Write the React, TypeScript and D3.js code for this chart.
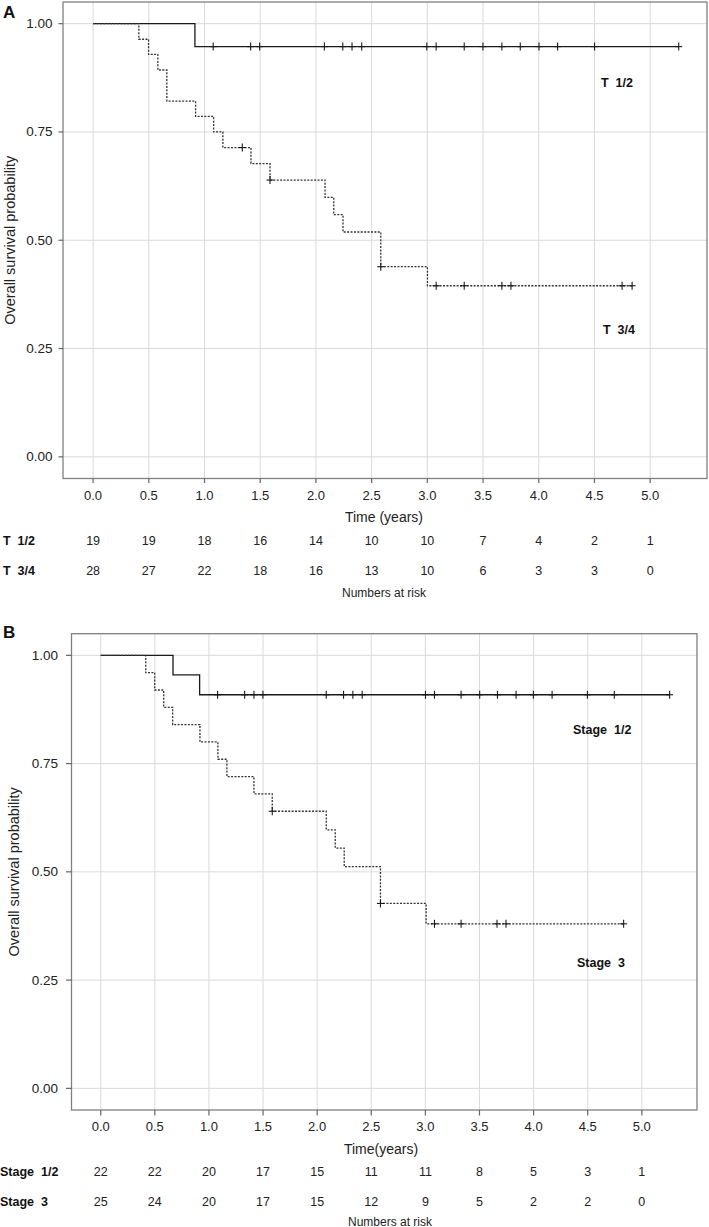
import React, { useEffect } from "react";
import * as d3 from "d3";

// ---------- DATA ----------
const xTicks = [0, 0.5, 1, 1.5, 2, 2.5, 3, 3.5, 4, 4.5, 5];
const yTicks = [0, 0.25, 0.5, 0.75, 1];

// Panel A
const aT12Times = [0.914];
const aT12Surv = [0.947];
const aT12Censor = [1.078, 1.414, 1.495, 2.076, 2.241, 2.324, 2.411, 2.995, 3.079, 3.331, 3.499, 3.669, 3.834, 4.002, 4.169, 4.501, 5.256];
const aT34Times = [0.411, 0.498, 0.581, 0.662, 0.92, 1.082, 1.165, 1.417, 1.588, 2.082, 2.16, 2.243, 2.582, 3.001];
const aT34Surv = [0.964, 0.929, 0.893, 0.821, 0.786, 0.75, 0.714, 0.677, 0.639, 0.599, 0.559, 0.519, 0.439, 0.395];
const aT34Censor = [1.339, 1.588, 2.582, 3.079, 3.331, 3.669, 3.75, 4.748, 4.838];
const aRiskT12 = [19, 19, 18, 16, 14, 10, 10, 7, 4, 2, 1];
const aRiskT34 = [28, 27, 22, 18, 16, 13, 10, 6, 3, 3, 0];

// Panel B
const bS12Times = [0.668, 0.914];
const bS12Surv = [0.955, 0.909];
const bS12Censor = [1.08, 1.33, 1.416, 1.499, 2.084, 2.244, 2.33, 2.416, 3.001, 3.084, 3.33, 3.502, 3.666, 3.838, 3.998, 4.171, 4.497, 4.746, 5.257];
const bS3Times = [0.416, 0.499, 0.582, 0.665, 0.917, 1.083, 1.166, 1.416, 1.585, 2.084, 2.167, 2.25, 2.585, 3.007];
const bS3Surv = [0.96, 0.92, 0.88, 0.84, 0.8, 0.76, 0.72, 0.68, 0.64, 0.597, 0.555, 0.512, 0.427, 0.38];
const bS3Censor = [1.585, 2.585, 3.084, 3.33, 3.662, 3.745, 4.832];
const bRiskS12 = [22, 22, 20, 17, 15, 11, 11, 8, 5, 3, 1];
const bRiskS3 = [25, 24, 20, 17, 15, 12, 9, 5, 2, 2, 0];

const FONT = "'Liberation Sans', Arial, Helvetica, sans-serif";

type Curve = { times: number[]; surv: number[]; censor: number[]; dotted: boolean };

function survAt(c: Curve, t: number) {
  let s = 1;
  for (let i = 0; i < c.times.length; i++) if (c.times[i] <= t + 1e-9) s = c.surv[i];
  return s;
}

function Panel(props: {
  letter: string;
  frame: [number, number, number, number]; // x0, x1, y0(top), y1(bottom)
  tickLen: number;
  yLabelGap: number;
  curves: Curve[];
  curveLabels: { text: string; x: number; y: number }[];
  letterY: number;
  yTitleX: number;
  xTickLabelY: number;
  xTitle: string;
  xTitleY: number;
  xTitleX: number;
  riskRows: { label: string; values: number[]; y: number; labelX: number }[];
  riskTitleY: number;
  riskTitleX: number;
}) {
  const [fx0, fx1, fy0, fy1] = props.frame;
  const x = d3.scaleLinear().domain([-0.27, 5.51]).range([fx0, fx1]);
  const y = d3.scaleLinear().domain([-0.05, 1.05]).range([fy1, fy0]);
  const line = d3
    .line<[number, number]>()
    .x((d) => x(d[0]))
    .y((d) => y(d[1]))
    .curve(d3.curveStepAfter);

  return (
    <g>
      <text x={3} y={props.letterY} fontFamily={FONT} fontWeight="bold" fontSize={17} fill="#111">
        {props.letter}
      </text>
      {/* grid */}
      {xTicks.map((t) => (
        <line key={"gx" + t} x1={x(t)} x2={x(t)} y1={fy0} y2={fy1} stroke="#dadada" strokeWidth={1} />
      ))}
      {yTicks.map((t) => (
        <line key={"gy" + t} x1={fx0} x2={fx1} y1={y(t)} y2={y(t)} stroke="#dadada" strokeWidth={1} />
      ))}
      {/* frame */}
      <rect x={fx0} y={fy0} width={fx1 - fx0} height={fy1 - fy0} fill="none" stroke="#808080" strokeWidth={1.3} />
      {/* y ticks */}
      {yTicks.map((t) => (
        <g key={"yt" + t}>
          <line x1={fx0 - props.tickLen} x2={fx0} y1={y(t)} y2={y(t)} stroke="#666" strokeWidth={1.2} />
          <text
            x={fx0 - props.yLabelGap}
            y={y(t)}
            textAnchor="end"
            dominantBaseline="central"
            fontFamily={FONT}
            fontSize={13.5}
            fill="#222"
          >
            {d3.format(".2f")(t)}
          </text>
        </g>
      ))}
      {/* x ticks */}
      {xTicks.map((t) => (
        <g key={"xt" + t}>
          <line x1={x(t)} x2={x(t)} y1={fy1} y2={fy1 + props.tickLen} stroke="#666" strokeWidth={1.2} />
          <text
            x={x(t)}
            y={props.xTickLabelY}
            textAnchor="middle"
            dominantBaseline="central"
            fontFamily={FONT}
            fontSize={13}
            fill="#222"
          >
            {d3.format(".1f")(t)}
          </text>
        </g>
      ))}
      {/* y title */}
      <text
        transform={`translate(${props.yTitleX},${(fy0 + fy1) / 2}) rotate(-90)`}
        textAnchor="middle"
        dominantBaseline="central"
        fontFamily={FONT}
        fontSize={14.5}
        fill="#222"
      >
        Overall survival probability
      </text>
      {/* x title */}
      <text
        x={props.xTitleX}
        y={props.xTitleY}
        textAnchor="middle"
        dominantBaseline="central"
        fontFamily={FONT}
        fontSize={14}
        fill="#222"
      >
        {props.xTitle}
      </text>
      {/* curves */}
      {props.curves.map((c, i) => {
        const last = Math.max(c.times[c.times.length - 1], c.censor[c.censor.length - 1]);
        const pts: [number, number][] = [[0, 1]];
        c.times.forEach((t, k) => pts.push([t, c.surv[k]]));
        pts.push([last, c.surv[c.surv.length - 1]]);
        return (
          <g key={"c" + i}>
            <path
              d={line(pts) || ""}
              fill="none"
              stroke={c.dotted ? "#333" : "#1a1a1a"}
              strokeWidth={c.dotted ? 1.3 : 1.3}
              strokeDasharray={c.dotted ? "2,1.4" : undefined}
            />
            {c.censor.map((t, k) => {
              const cx = x(t);
              const cy = y(survAt(c, t));
              return (
                <g key={"m" + k} stroke="#1a1a1a" strokeWidth={1.1}>
                  <line x1={cx} x2={cx} y1={cy - 4} y2={cy + 4} />
                  <line x1={cx - 3.5} x2={cx + 3.5} y1={cy} y2={cy} />
                </g>
              );
            })}
          </g>
        );
      })}
      {props.curveLabels.map((l, i) => (
        <text
          key={"cl" + i}
          x={l.x}
          y={l.y}
          dominantBaseline="central"
          fontFamily={FONT}
          fontWeight="bold"
          fontSize={12.5}
          fill="#111"
          style={{ whiteSpace: "pre" }}
        >
          {l.text}
        </text>
      ))}
      {/* risk table */}
      {props.riskRows.map((r, i) => (
        <g key={"r" + i}>
          <text
            x={r.labelX}
            y={r.y}
            dominantBaseline="central"
            fontFamily={FONT}
            fontWeight="bold"
            fontSize={12.5}
            fill="#111"
            style={{ whiteSpace: "pre" }}
          >
            {r.label}
          </text>
          {r.values.map((v, k) => (
            <text
              key={k}
              x={x(xTicks[k])}
              y={r.y}
              textAnchor="middle"
              dominantBaseline="central"
              fontFamily={FONT}
              fontSize={12.5}
              fill="#222"
            >
              {v}
            </text>
          ))}
        </g>
      ))}
      <text
        x={props.riskTitleX}
        y={props.riskTitleY}
        textAnchor="middle"
        dominantBaseline="central"
        fontFamily={FONT}
        fontSize={12}
        fill="#222"
      >
        Numbers at risk
      </text>
    </g>
  );
}

export default function App() {
  useEffect(() => {
    document.body.style.margin = "0";
  }, []);
  return (
    <svg width={709} height={1227} style={{ display: "block", background: "#fff" }}>
      <Panel
        letter="A"
        frame={[63, 707, 2, 478.5]}
        tickLen={4.5}
        yLabelGap={10.5}
        letterY={18}
        yTitleX={10}
        xTickLabelY={495}
        xTitle="Time (years)"
        xTitleX={384}
        xTitleY={517}
        curves={[
          { times: aT12Times, surv: aT12Surv, censor: aT12Censor, dotted: false },
          { times: aT34Times, surv: aT34Surv, censor: aT34Censor, dotted: true },
        ]}
        curveLabels={[
          { text: "T  1/2", x: 601, y: 83 },
          { text: "T  3/4", x: 603, y: 330 },
        ]}
        riskRows={[
          { label: "T  1/2", values: aRiskT12, y: 541, labelX: 3 },
          { label: "T  3/4", values: aRiskT34, y: 570.5, labelX: 3 },
        ]}
        riskTitleX={384}
        riskTitleY={593}
      />
      <Panel
        letter="B"
        frame={[71.5, 697, 633.7, 1110]}
        tickLen={5.5}
        yLabelGap={13.5}
        letterY={638}
        yTitleX={14}
        xTickLabelY={1126.5}
        xTitle="Time(years)"
        xTitleX={381}
        xTitleY={1148.5}
        curves={[
          { times: bS12Times, surv: bS12Surv, censor: bS12Censor, dotted: false },
          { times: bS3Times, surv: bS3Surv, censor: bS3Censor, dotted: true },
        ]}
        curveLabels={[
          { text: "Stage  1/2", x: 573, y: 730 },
          { text: "Stage  3", x: 577, y: 963 },
        ]}
        riskRows={[
          { label: "Stage  1/2", values: bRiskS12, y: 1172, labelX: 0 },
          { label: "Stage  3", values: bRiskS3, y: 1201.5, labelX: 0 },
        ]}
        riskTitleX={390}
        riskTitleY={1221.5}
      />
    </svg>
  );
}
